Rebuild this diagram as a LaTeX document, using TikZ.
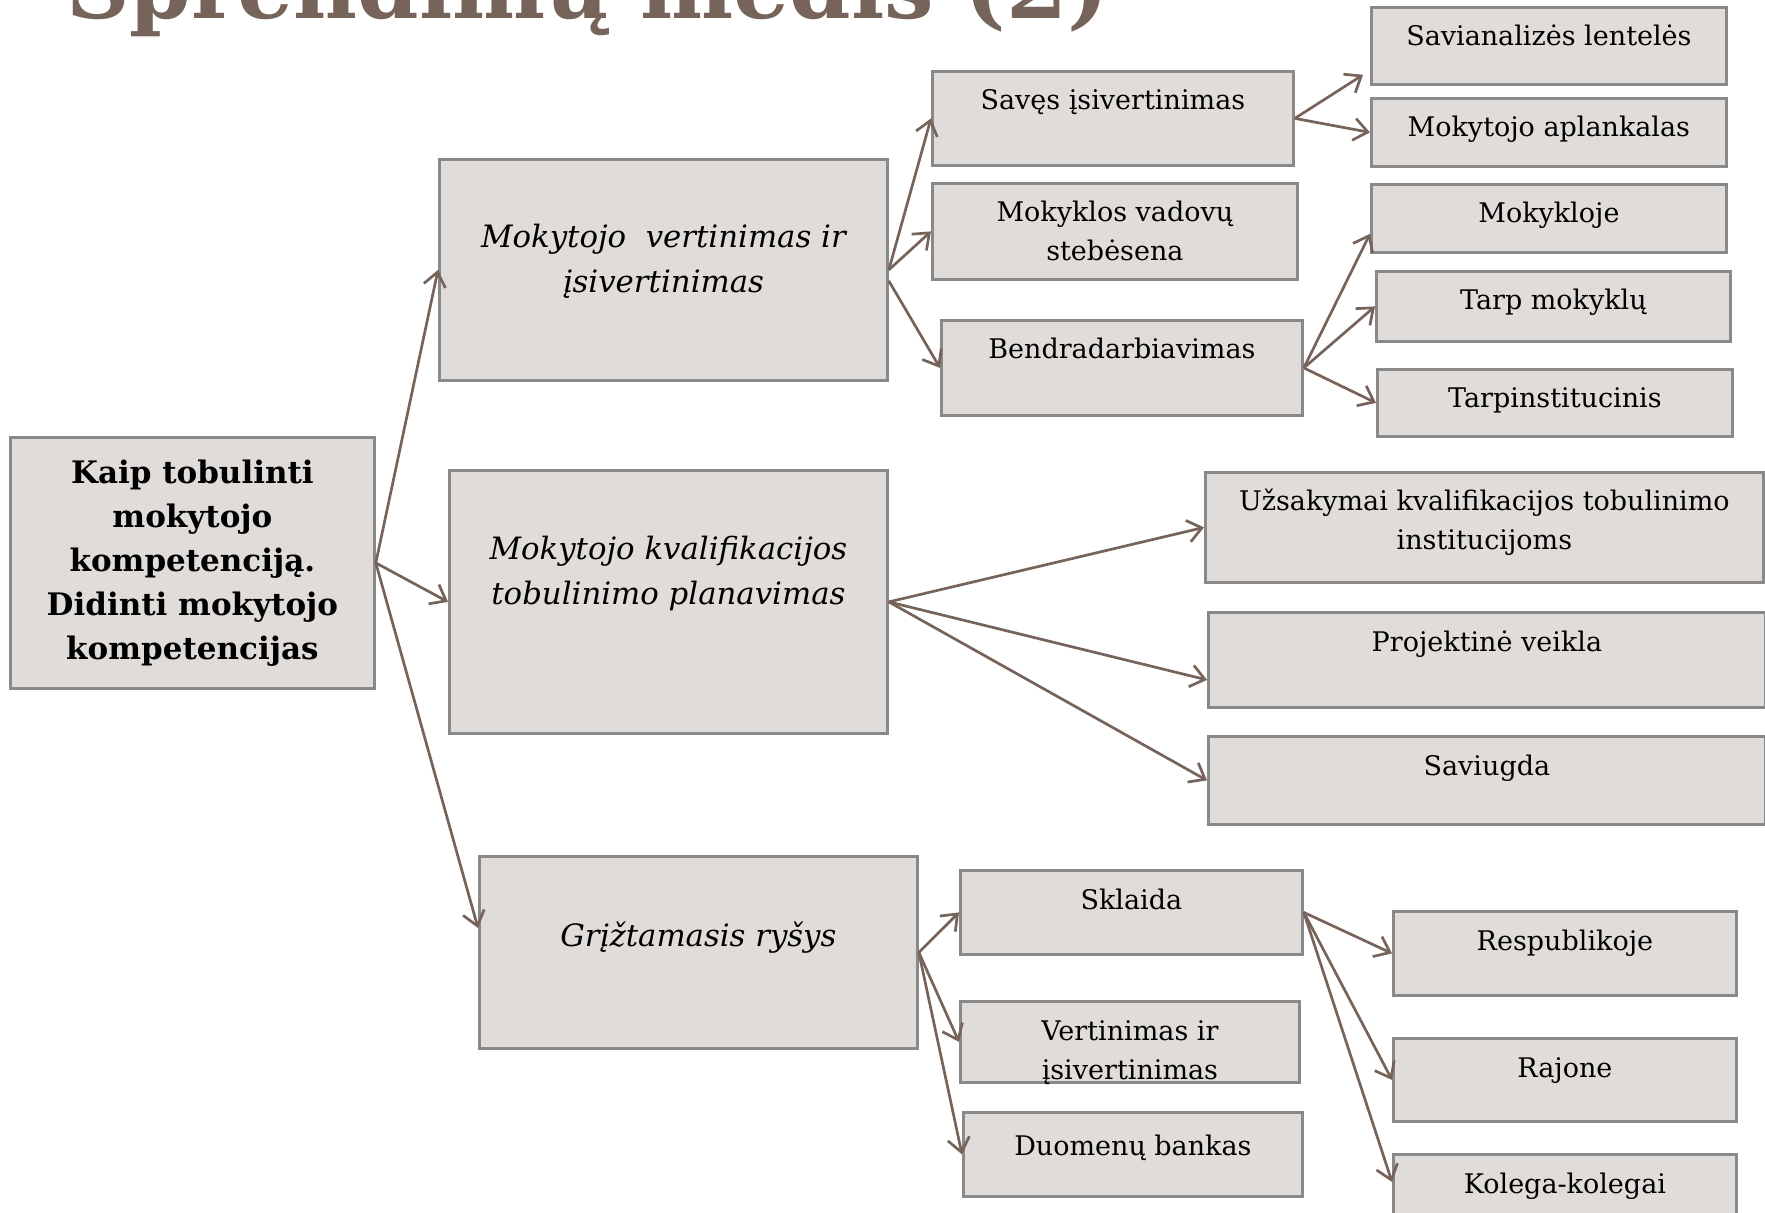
\documentclass[tikz,border=0pt]{standalone}
\usepackage{fontspec}
\setmainfont{DejaVu Serif}
\usetikzlibrary{arrows.meta,calc}
\definecolor{boxc}{RGB}{223,220,217}
\definecolor{bordc}{RGB}{137,137,137}
\definecolor{arrc}{RGB}{118,99,90}
\definecolor{titlec}{RGB}{118,100,91}
\newcommand\mlines[1]{\begin{tabular}[t]{@{}c@{}}#1\end{tabular}}
\tikzset{
  box/.style={draw=bordc, line width=1.4pt, fill=boxc, inner sep=0pt, anchor=north west},
  stxt/.style={anchor=base, inner sep=0pt, font=\fontsize{13.5}{19.5}\selectfont},
  btxt/.style={anchor=base, inner sep=0pt, font=\fontsize{15.4}{22.5}\selectfont\itshape},
  roottxt/.style={align=center, inner sep=0pt, font=\fontsize{15.5}{22}\selectfont\bfseries},
  conn/.style={draw=arrc, line width=1.35pt, -{Straight Barb[length=7pt,width=11pt]}},
}
\begin{document}
\begin{tikzpicture}[x=0.5pt,y=-0.5pt]
\useasboundingbox (0,0) rectangle (1765,1213);
\clip (0,0) rectangle (1765,1213);
% title
\node[anchor=base west, inner sep=0pt, text=titlec, font=\fontsize{44}{52}\selectfont\bfseries] (title) at (66,19) {Sprendimų medis (2)};
% boxes
\node[box, minimum width=182pt, minimum height=125.5pt] (root) at (9,436) {};
\node[box, minimum width=224pt, minimum height=110.5pt] (A) at (438,158) {};
\node[box, minimum width=219pt, minimum height=131.5pt] (B) at (448,469) {};
\node[box, minimum width=219pt, minimum height=96pt] (C) at (478,855) {};
\node[box, minimum width=180.5pt, minimum height=47pt] (A1) at (931,70) {};
\node[box, minimum width=182.5pt, minimum height=48pt] (A2) at (931,182) {};
\node[box, minimum width=180.5pt, minimum height=47.5pt] (A3) at (940,319) {};
\node[box, minimum width=177.5pt, minimum height=38.5pt] (A1a) at (1370,6) {};
\node[box, minimum width=177.5pt, minimum height=34pt] (A1b) at (1370,97) {};
\node[box, minimum width=177.5pt, minimum height=34pt] (A3a) at (1370,183) {};
\node[box, minimum width=177pt, minimum height=35pt] (A3b) at (1375,270) {};
\node[box, minimum width=177.5pt, minimum height=33.5pt] (A3c) at (1376,368) {};
\node[box, minimum width=279pt, minimum height=55pt] (B1) at (1204,471) {};
\node[box, minimum width=278.5pt, minimum height=47.5pt] (B2) at (1207,611) {};
\node[box, minimum width=278.5pt, minimum height=44pt] (B3) at (1207,735) {};
\node[box, minimum width=171pt, minimum height=42pt] (C1) at (959,869) {};
\node[box, minimum width=169.5pt, minimum height=40.5pt] (C2) at (959,1000) {};
\node[box, minimum width=169.5pt, minimum height=42pt] (C3) at (962,1111) {};
\node[box, minimum width=171.5pt, minimum height=42pt] (C1a) at (1392,910) {};
\node[box, minimum width=171.5pt, minimum height=41.5pt] (C1b) at (1392,1037) {};
\node[box, minimum width=171.5pt, minimum height=45pt] (C1c) at (1392,1153) {};
% texts
\node[roottxt] (roott) at (root.center) {Kaip tobulinti\\mokytojo\\kompetenciją.\\Didinti mokytojo\\kompetencijas};
\node[btxt] (At) at ($(A.north)+(0,90)$) {\mlines{Mokytojo\ \ vertinimas ir\\įsivertinimas}};
\node[btxt] (Bt) at ($(B.north)+(0,90)$) {\mlines{Mokytojo kvalifikacijos\\tobulinimo planavimas}};
\node[btxt] (Ct) at ($(C.north)+(0,91)$) {Grįžtamasis ryšys};
\node[stxt] (A1t) at ($(A1.north)+(0,40)$) {Savęs įsivertinimas};
\node[stxt] (A2t) at ($(A2.north)+(0,40)$) {\mlines{Mokyklos vadovų\\stebėsena}};
\node[stxt] (A3t) at ($(A3.north)+(0,40)$) {Bendradarbiavimas};
\node[stxt] (A1at) at ($(A1a.north)+(0,40)$) {Savianalizės lentelės};
\node[stxt] (A1bt) at ($(A1b.north)+(0,40)$) {Mokytojo aplankalas};
\node[stxt] (A3at) at ($(A3a.north)+(0,40)$) {Mokykloje};
\node[stxt] (A3bt) at ($(A3b.north)+(0,40)$) {Tarp mokyklų};
\node[stxt] (A3ct) at ($(A3c.north)+(0,40)$) {Tarpinstitucinis};
\node[stxt] (B1t) at ($(B1.north)+(0,39)$) {\mlines{Užsakymai kvalifikacijos tobulinimo\\institucijoms}};
\node[stxt] (B2t) at ($(B2.north)+(0,40)$) {Projektinė veikla};
\node[stxt] (B3t) at ($(B3.north)+(0,40)$) {Saviugda};
\node[stxt] (C1t) at ($(C1.north)+(0,40)$) {Sklaida};
\node[stxt] (C2t) at ($(C2.north)+(0,40)$) {\mlines{Vertinimas ir\\įsivertinimas}};
\node[stxt] (C3t) at ($(C3.north)+(0,44)$) {Duomenų bankas};
\node[stxt] (C1at) at ($(C1a.north)+(0,40)$) {Respublikoje};
\node[stxt] (C1bt) at ($(C1b.north)+(0,40)$) {Rajone};
\node[stxt] (C1ct) at ($(C1c.north)+(0,40)$) {Kolega-kolegai};
% connectors
\draw[conn] (root.east) -- (A.west);
\draw[conn] (root.east) -- (B.west);
\draw[conn] (root.east) -- ($(C.north west)+(0,73)$);
\draw[conn] (A.east) -- (A1.west);
\draw[conn] (A.east) -- (A2.west);
\draw[conn] ($(A.east)+(0,11)$) -- (A3.west);
\draw[conn] (A1.east) -- ($(A1a.south west)+(-7,-11)$);
\draw[conn] (A1.east) -- (A1b.west);
\draw[conn] (A3.east) -- ($(A3a.south west)+(0,-20)$);
\draw[conn] (A3.east) -- (A3b.west);
\draw[conn] (A3.east) -- (A3c.west);
\draw[conn] (B.east) -- (B1.west);
\draw[conn] (B.east) -- ($(B2.west)+(0,20)$);
\draw[conn] (B.east) -- (B3.west);
\draw[conn] (C.east) -- (C1.west);
\draw[conn] (C.east) -- (C2.west);
\draw[conn] (C.east) -- (C3.west);
\draw[conn] (C1.east) -- (C1a.west);
\draw[conn] (C1.east) -- (C1b.west);
\draw[conn] (C1.east) -- ($(C1c.north west)+(0,29)$);
\end{tikzpicture}
\end{document}
